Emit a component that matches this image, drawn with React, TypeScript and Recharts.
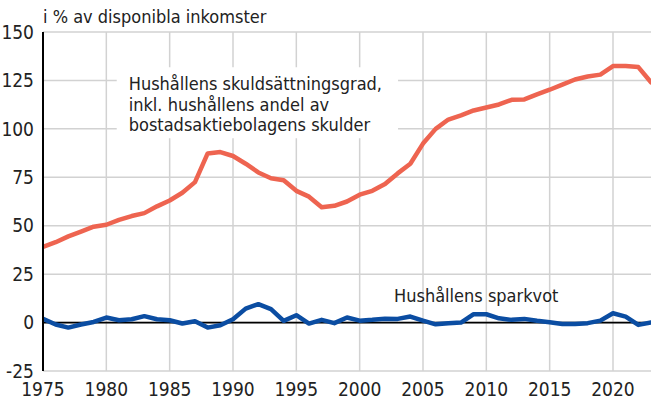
import React from 'react';
import {
  LineChart,
  Line,
  XAxis,
  YAxis,
  CartesianGrid,
  ReferenceLine,
  ReferenceArea,
} from 'recharts';

const years: number[] = [
  1975, 1976, 1977, 1978, 1979, 1980, 1981, 1982, 1983, 1984,
  1985, 1986, 1987, 1988, 1989, 1990, 1991, 1992, 1993, 1994,
  1995, 1996, 1997, 1998, 1999, 2000, 2001, 2002, 2003, 2004,
  2005, 2006, 2007, 2008, 2009, 2010, 2011, 2012, 2013, 2014,
  2015, 2016, 2017, 2018, 2019, 2020, 2021, 2022, 2023,
];

const debtRatio: number[] = [
  39, 41.5, 44.5, 47, 49.5, 50.5, 53, 55, 56.5, 60,
  63, 67, 72.5, 87.3, 88, 86, 82, 77.5, 74.5, 73.5,
  68, 65, 59.5, 60.3, 62.5, 66, 68, 71.5, 77, 82,
  92.4, 100, 104.8, 107, 109.5, 111, 112.6, 115, 115.2, 117.8,
  120.2, 122.8, 125.5, 127, 128, 132.4, 132.5, 131.9, 124,
];

const savingRatio: number[] = [
  2, -1, -2.6, -1, 0.3, 2.6, 1.2, 1.7, 3.3, 1.7,
  1.2, -0.5, 0.7, -2.6, -1.4, 1.7, 7.2, 9.5, 6.9, 0.9,
  3.8, -0.5, 1.4, -0.3, 2.6, 1, 1.4, 2, 1.9, 3.1,
  1, -0.9, -0.3, 0, 4.3, 4.3, 2.2, 1.4, 1.9, 0.9,
  0.2, -0.7, -0.7, -0.3, 1, 4.8, 3.1, -1.2, 0,
];

const xTicks: number[] = [1975, 1980, 1985, 1990, 1995, 2000, 2005, 2010, 2015, 2020];
const yTicks: number[] = [-25, 0, 25, 50, 75, 100, 125, 150];

const titleText = 'i % av disponibla inkomster';
const debtLabel: string[] = [
  'Hushållens skuldsättningsgrad,',
  'inkl. hushållens andel av',
  'bostadsaktiebolagens skulder',
];
const savingLabel = 'Hushållens sparkvot';

const data = years.map((year, i) => ({
  year,
  debt: debtRatio[i],
  saving: savingRatio[i],
}));

const FONT = "'Liberation Sans Narrow', 'DejaVu Sans Condensed', Roboto, sans-serif";
const TEXT = '#222222';
const RED = '#EE6450';
const BLUE = '#0B4DA2';
const GRID = '#d2d2d2';

const BoxLabel = (props: any) => {
  const vb = props.viewBox || {};
  const x = (vb.x || 0) + 12;
  const y0 = vb.y || 0;
  return (
    <text x={x} y={y0} fill={TEXT} fontFamily={FONT} fontSize={18}>
      {debtLabel.map((line, i) => (
        <tspan key={i} x={x} y={y0 + 23 + i * 20.5}>
          {line}
        </tspan>
      ))}
    </text>
  );
};

export default function App() {
  return (
    <div style={{ position: 'absolute', left: 0, top: 0, width: 652, height: 400, background: '#fff' }}>
      <LineChart
        width={652}
        height={400}
        data={data}
        margin={{ top: 32, right: 1, bottom: 0, left: 0 }}
      >
        <CartesianGrid stroke={GRID} strokeWidth={1.5} horizontalValues={yTicks} verticalValues={xTicks} />
        <ReferenceArea
          x1={1980.82}
          x2={2003.03}
          y1={95.1}
          y2={131.8}
          fill="#ffffff"
          fillOpacity={1}
          stroke="none"
          label={<BoxLabel />}
        />
        <XAxis
          type="number"
          dataKey="year"
          domain={[1975, 2023]}
          ticks={xTicks}
          allowDataOverflow
          axisLine={false}
          tickLine={false}
          tickSize={6}
          tickMargin={6}
          height={29}
          tick={{ fill: TEXT, fontSize: 19, fontFamily: FONT }}
        />
        <YAxis
          type="number"
          domain={[-25, 150]}
          ticks={yTicks}
          allowDataOverflow
          width={43}
          axisLine={{ stroke: '#000', strokeWidth: 2 }}
          tickLine={false}
          tickSize={7}
          tickMargin={2}
          tick={{ fill: TEXT, fontSize: 19, fontFamily: FONT }}
        />
        <ReferenceLine y={0} stroke="#000" strokeWidth={1.8} />
        <Line
          type="linear"
          dataKey="debt"
          stroke={RED}
          strokeWidth={4.5}
          dot={false}
          isAnimationActive={false}
          strokeLinejoin="round"
          strokeLinecap="round"
        />
        <Line
          type="linear"
          dataKey="saving"
          stroke={BLUE}
          strokeWidth={4.5}
          dot={false}
          isAnimationActive={false}
          strokeLinejoin="round"
          strokeLinecap="round"
        />
      </LineChart>
      <svg
        width={652}
        height={400}
        style={{ position: 'absolute', left: 0, top: 0, pointerEvents: 'none' }}
      >
        <text x={43} y={23} fill={TEXT} fontFamily={FONT} fontSize={18}>
          {titleText}
        </text>
        <text x={394} y={302} fill={TEXT} fontFamily={FONT} fontSize={18}>
          {savingLabel}
        </text>
      </svg>
    </div>
  );
}
